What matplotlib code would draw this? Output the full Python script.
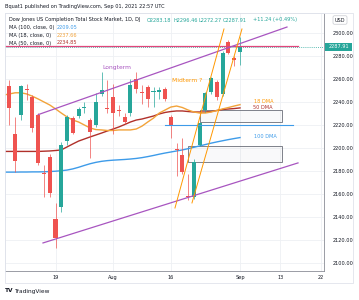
"""
Recreacion del grafico diario de DJ Completion (TradingView, 01-Sep-2021)
con velas, medias moviles y los dibujos del autor (canal, rectangulos).
"""

import numpy as np
import matplotlib.pyplot as plt
from matplotlib.patches import Rectangle
from matplotlib.transforms import blended_transform_factory

# ============ DATOS ============
dates = ["Jul 07", "Jul 08", "Jul 09", "Jul 12", "Jul 13", "Jul 14", "Jul 15", "Jul 16",
         "Jul 19", "Jul 20", "Jul 21", "Jul 22", "Jul 23", "Jul 26", "Jul 27", "Jul 28",
         "Jul 29", "Jul 30", "Aug 02", "Aug 03", "Aug 04", "Aug 05", "Aug 06", "Aug 09",
         "Aug 10", "Aug 11", "Aug 12", "Aug 13", "Aug 16", "Aug 17", "Aug 18", "Aug 19",
         "Aug 20", "Aug 23", "Aug 24", "Aug 25", "Aug 26", "Aug 27", "Aug 30", "Aug 31",
         "Sep 01"]
opens = [2254, 2212, 2229, 2251.5, 2244, 2229, 2178, 2192,
         2138, 2149, 2206, 2226, 2228, 2235, 2224, 2220,
         2247, 2234.5, 2244, 2232.5, 2227, 2230, 2260, 2249,
         2253, 2249, 2249, 2251, 2227, 2199, 2194, 2158,
         2157, 2203, 2233, 2249, 2257, 2247, 2292, 2278,
         2283.18]
highs = [2259, 2227, 2255, 2256, 2246, 2230, 2185, 2195,
         2152, 2205, 2229, 2228, 2236, 2240, 2226, 2248,
         2266, 2259, 2256, 2237, 2230, 2260, 2266, 2255,
         2255, 2253, 2253, 2253, 2229, 2204, 2209, 2177,
         2190, 2223, 2249, 2262, 2259, 2284, 2294, 2280,
         2296.46]
lows = [2220, 2179, 2224, 2242, 2214, 2185, 2157, 2157,
        2113, 2144, 2203, 2212, 2226, 2230, 2191, 2218,
        2245, 2230, 2212, 2228, 2221, 2228, 2248, 2238,
        2236, 2236, 2243, 2241, 2209, 2176, 2177, 2155,
        2156, 2202, 2231, 2247, 2242, 2245, 2282, 2271,
        2272.27]
closes = [2235, 2189, 2254, 2250, 2217, 2187, 2177, 2161,
          2122, 2203, 2227, 2213, 2234, 2235.5, 2214, 2240,
          2250, 2234, 2230, 2232, 2223, 2255, 2251, 2247.5,
          2243, 2249.5, 2250, 2243, 2220, 2198, 2179, 2157,
          2188, 2222, 2248, 2261, 2244, 2283, 2283, 2276.67,
          2287.91]

# medias moviles desde Jul 06 (una barra antes de la primera vela visible)
ma18 = [2246, 2247, 2248, 2248, 2247, 2245, 2242.6, 2240, 2237.4,
        2234, 2230.4, 2227, 2224.3, 2222.6, 2220, 2217.4, 2216, 2215.7,
        2215.2, 2215.2, 2215.7, 2215.7, 2215.7, 2216.5, 2219, 2222.6, 2226,
        2230.4, 2233, 2235.6, 2236.5, 2235.2, 2233, 2231.3, 2230.4, 2230.4,
        2231.3, 2232.6, 2234, 2235.2, 2236.5, 2237.66]
ma50 = [2197, 2197, 2197, 2197, 2197, 2197, 2197, 2197.2, 2197.4,
        2197.8, 2198.3, 2200.9, 2203.5, 2206, 2207.8, 2209.6, 2211.3, 2213,
        2214.8, 2216.5, 2218.3, 2220.4, 2222.6, 2224.3, 2225.2, 2226.5, 2227.8,
        2229.6, 2230.9, 2231.7, 2232.2, 2232.2, 2231.7, 2231.3, 2231.3, 2231.3,
        2231.7, 2232.6, 2233.5, 2233.9, 2234.3, 2234.85]
ma100 = [2179.0, 2179.0, 2179.0, 2179.1, 2179.1, 2179.2, 2179.2, 2179.3, 2179.5,
         2179.8, 2180.2, 2180.8, 2181.8, 2183.2, 2184.8, 2186.3, 2187.5, 2188.4,
         2189.0, 2189.4, 2189.7, 2190.0, 2190.4, 2190.9, 2191.6, 2192.5, 2193.5,
         2194.6, 2195.6, 2196.5, 2197.4, 2198.3, 2199.4, 2200.6, 2201.8, 2203.0,
         2204.2, 2205.3, 2206.3, 2207.3, 2208.2, 2209.05]

price_ticks = [2100, 2120, 2140, 2160, 2180, 2200, 2220, 2240, 2260, 2280, 2300]
time_tick_pos = [8, 18, 28, 40, 47, 54]
time_tick_labels = ["19", "Aug", "16", "Sep", "13", "22"]

# dibujos del autor (indice de barra, precio)
longterm_upper = ([5, 48.15], [2229, 2305.2])
longterm_lower = ([5.83, 50.06], [2117.4, 2187])
midterm_a = ([28.72, 37.22], [2147.8, 2303.5])
midterm_b = ([31.67, 40.34], [2152.2, 2303.5])
box_top = (33.06, 47.28, 2222.6, 2233)
box_bottom = (30.98, 47.28, 2187.8, 2201.7)
blue_level = (27.0, 49.2, 2220.4)
pink_level = (-1, 50.06, 2288.3)
last_price = 2287.91
# =================================

GREEN = "#26a69a"
RED = "#ef5350"
C18 = "#f2a33a"
C50 = "#b0302a"
C100 = "#3d9be9"
PURPLE = "#a855c0"
ORANGE = "#ff9800"
TXT = "#131722"
FS = 3.6

W, H = 359, 300


def fx(px):
    return px / W


def fy(py):
    return 1 - py / H


fig = plt.figure(figsize=(W / 100, H / 100), dpi=100)
ax = fig.add_axes([fx(5), fy(271), (324 - 5) / W, (271 - 13) / H])
ax.set_xlim(-0.76, 54.57)
ax.set_ylim(2093.0, 2317.4)

# rejilla
ax.set_yticks(price_ticks)
ax.set_yticklabels([f"{p:.2f}" for p in price_ticks])
ax.set_xticks(time_tick_pos[:-1])
ax.set_xticklabels(time_tick_labels[:-1])
ax.grid(color="#eef0f4", lw=0.6, zorder=0)
for xv in time_tick_pos[-1:]:
    ax.axvline(xv, color="#eef0f4", lw=0.6, zorder=0)
ax.yaxis.tick_right()
ax.tick_params(axis="y", length=0, labelsize=FS, labelcolor=TXT, pad=6)
ax.tick_params(axis="x", length=0, labelsize=FS, labelcolor=TXT, pad=3)
for s in ["left", "top"]:
    ax.spines[s].set_color("#e0e3eb")
    ax.spines[s].set_linewidth(0.6)
for s in ["right", "bottom"]:
    ax.spines[s].set_color("#8a8d96")
    ax.spines[s].set_linewidth(0.6)

# ultima etiqueta de tiempo, tapada en parte por la escala de precios
trans = blended_transform_factory(ax.transData, ax.transAxes)
ax.text(time_tick_pos[-1], -0.024, time_tick_labels[-1], transform=trans,
        ha="center", va="center", fontsize=FS, color=TXT, clip_on=False)
fig.patches.append(Rectangle((fx(324.6), fy(282.5)), fx(352.5) - fx(324.6), 11 / H,
                             transform=fig.transFigure, facecolor="white", edgecolor="none",
                             zorder=2))

# rectangulos
for x0, x1, p0, p1 in [box_top, box_bottom]:
    ax.add_patch(Rectangle((x0, p0), x1 - x0, p1 - p0, facecolor=(0.47, 0.48, 0.53, 0.04),
                           edgecolor="#6a6d78", lw=0.6, zorder=2))

# medias moviles
ma_x = np.arange(-1, len(dates))
ax.plot(ma_x, ma100, color=C100, lw=1.0, zorder=3)
ax.plot(ma_x, ma50, color=C50, lw=1.0, zorder=3)
ax.plot(ma_x, ma18, color=C18, lw=1.0, zorder=3)

# velas
x = np.arange(len(dates))
o = np.array(opens)
c = np.array(closes)
colors = np.where(c >= o, GREEN, RED)
ax.vlines(x, lows, highs, colors=colors, lw=0.5, zorder=4)
body = np.maximum(np.abs(c - o), 0.9)
ax.bar(x, body, bottom=np.minimum(o, c), width=0.7, color=colors, zorder=5)

# lineas de precio
ax.axhline(last_price, color=GREEN, lw=0.6, ls=(0, (1, 1.5)), zorder=3)
ax.plot([pink_level[0], pink_level[1]], [pink_level[2]] * 2, color="#e0457b", lw=0.9, zorder=6)
ax.plot([blue_level[0], blue_level[1]], [blue_level[2]] * 2, color=C100, lw=0.8, zorder=6)

# canal y lineas de tendencia
ax.plot(*longterm_upper, color=PURPLE, lw=0.9, zorder=6)
ax.plot(*longterm_lower, color=PURPLE, lw=0.9, zorder=6)
ax.plot(*midterm_a, color=ORANGE, lw=0.7, zorder=6)
ax.plot(*midterm_b, color=ORANGE, lw=0.7, zorder=6)

# textos sobre el grafico
ax.text(18.68, 2270.4, "Longterm", color=PURPLE, fontsize=4.3, ha="center", va="center", zorder=7)
ax.text(30.9, 2259.1, "Midterm ?", color=ORANGE, fontsize=4.3, ha="center", va="center", zorder=7)
ax.text(42.4, 2240.0, "18 DMA", color=ORANGE, fontsize=FS, ha="left", va="center", zorder=7)
ax.text(42.25, 2235.3, "50 DMA", color=C50, fontsize=FS, ha="left", va="center", zorder=7)
ax.text(42.4, 2210.4, "100 DMA", color=C100, fontsize=FS, ha="left", va="center", zorder=7)

# encabezado y leyenda
fig.text(fx(5), fy(6.7), "Bquat1 published on TradingView.com, Sep 01, 2021 22:57 UTC",
         fontsize=FS, color=TXT, va="center")
row1 = [(9, "Dow Jones US Completion Total Stock Market, 1D, DJ", TXT),
        (147, f"O{opens[-1]:.2f}", GREEN), (174, f"H{highs[-1]:.2f}", GREEN),
        (199, f"L{lows[-1]:.2f}", GREEN), (223, f"C{closes[-1]:.2f}", GREEN),
        (253, f"{closes[-1] - closes[-2]:+.2f} ({(closes[-1] / closes[-2] - 1) * 100:+.2f}%)", GREEN)]
for px, s, col in row1:
    fig.text(fx(px), fy(20), s, fontsize=FS, color=col, va="center")
for py, lab, val, col in [(27.7, "MA (100, close, 0)", ma100[-1], C100),
                          (35.3, "MA (18, close, 0)", ma18[-1], C18),
                          (43.0, "MA (50, close, 0)", ma50[-1], C50)]:
    fig.text(fx(9), fy(py), lab, fontsize=FS, color=TXT, va="center")
    fig.text(fx(57), fy(py), f"{val:.2f}", fontsize=FS, color=col, va="center")

# escala de precios: USD y etiqueta del ultimo precio
fig.text(fx(340), fy(20), "USD", fontsize=FS, color=TXT, ha="center", va="center",
         bbox=dict(boxstyle="round,pad=0.35,rounding_size=0.3", fc="white", ec="#c8cad0", lw=0.5))
yp = 13 + (2317.4 - last_price) / (2317.4 - 2093.0) * 258
fig.patches.append(Rectangle((fx(325), fy(yp + 3.8)), fx(352) - fx(325), 7.6 / H,
                             transform=fig.transFigure, facecolor=GREEN, edgecolor="none"))
fig.text(fx(338.5), fy(yp), f"{last_price:.2f}", fontsize=FS, color="white", ha="center", va="center")

# marco exterior y logo
fig.patches.append(Rectangle((fx(5), fy(283)), fx(353) - fx(5), (283 - 13) / H,
                             transform=fig.transFigure, fill=False, edgecolor="#e0e3eb", lw=0.6))
fig.text(fx(5), fy(291), "TV", fontsize=4.2, color=TXT, weight="bold", va="center")
fig.text(fx(14), fy(291), "TradingView", fontsize=4.2, color=TXT, va="center")

fig.savefig("out.png", dpi=100, facecolor="white")
